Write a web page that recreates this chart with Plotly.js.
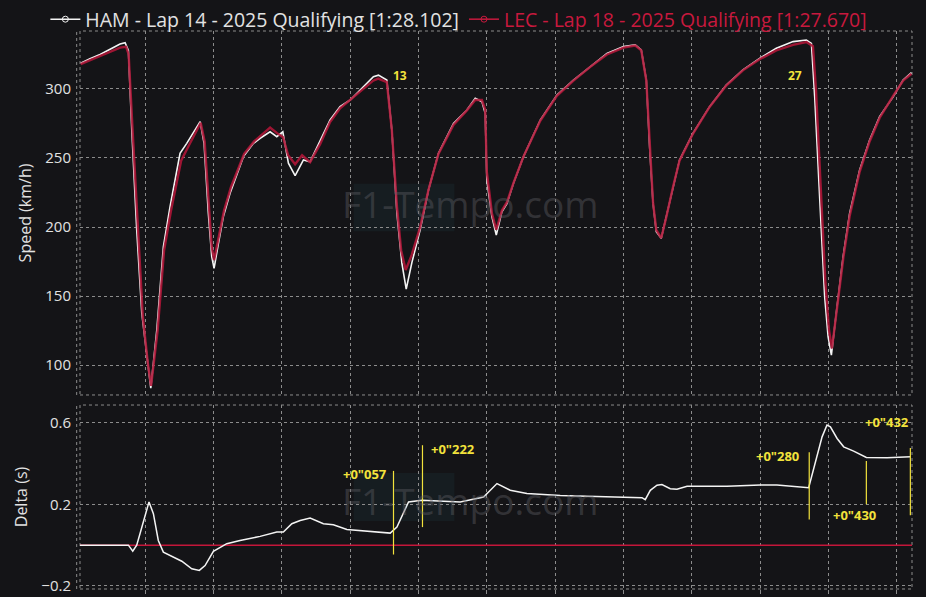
<!DOCTYPE html>
<html>
<head>
<meta charset="utf-8">
<script src="https://cdn.plot.ly/plotly-3.0.1.min.js"></script>
<style>html,body{margin:0;padding:0;background:#141417;}#chart{width:926px;height:597px;}</style>
</head>
<body>
<div id="chart"></div>
<script>
// ---- data (distance in metres) ----
const hamName = 'HAM - Lap 14 - 2025 Qualifying [1:28.102]';
const lecName = 'LEC - Lap 18 - 2025 Qualifying [1:27.670]';

const hamDist = [29,97,171,244,317,354,378,403,439,476,517,542,586,634,683,756,805,903,932,963,988,1005,1037,1073,1122,1220,1293,1342,1415,1464,1508,1549,1598,1659,1708,1781,1854,1927,2001,2074,2171,2208,2269,2306,2343,2379,2411,2452,2513,2574,2647,2757,2855,2916,2965,2989,3001,3038,3070,3111,3148,3196,3269,3392,3514,3635,3758,3880,4001,4087,4131,4168,4192,4217,4241,4277,4314,4363,4411,4509,4631,4753,4875,4997,5119,5242,5339,5376,5400,5436,5473,5498,5522,5558,5608,5656,5729,5802,5875,5974,6047,6108];
const hamSpeed = [318.6,322,325,329,332.6,333.5,328,270,198,137.7,101.5,83.3,125.4,185.7,214.7,253.4,260.6,276.3,260.6,210,178.5,170,188.2,207.5,224.4,251,260.6,264.3,269,265.4,269,246.2,237.2,248.6,247.3,263,277.5,287.2,292,299.3,308.9,310,306.5,270,210,174,155,174,198,226.8,253.4,275,284.8,293.3,290.8,282.4,234,207.5,194.2,211,217,231.7,251,277.5,295.7,306.5,316.2,325.8,330.7,331.9,328.3,306.5,258.2,217.2,196.6,191.8,207.5,229.2,248.6,267.9,287.2,302.9,313.8,322.2,329.5,334.3,335.5,333,294.4,222,149.5,120.5,107.2,137.7,178.5,210,241.3,263,280,294.4,306.5,311.8];

const lecDist = [29,171,317,361,380,410,447,483,522,544,592,639,690,764,815,907,936,965,987,1005,1035,1078,1129,1225,1298,1356,1415,1466,1510,1547,1598,1649,1708,1781,1854,1927,2001,2074,2169,2206,2269,2306,2343,2374,2407,2452,2513,2574,2647,2757,2855,2916,2965,2989,3001,3038,3070,3111,3148,3196,3269,3392,3514,3635,3758,3880,4001,4087,4131,4168,4192,4217,4241,4277,4314,4363,4411,4509,4631,4753,4875,4997,5119,5242,5339,5387,5409,5445,5478,5505,5526,5562,5610,5656,5729,5802,5875,5974,6047,6108];
const lecSpeed = [318,324,330,330.6,325,268,196,136,100,85,125,183,212,248,258,275.5,262,215,186,176,190,212,229,253,262,267,272,268,265,252,245.5,252,247,260,276,286,292,298,306,307.5,305,270,215,183,168.8,180,200,227,253,274,284.5,292,292,285,240,210,198,212,218,232,251,277,295,306,316,325,330,331.5,328,306,258,218,198,192,207,229,248,267.5,287,302.5,313.5,321.5,328,331.9,334,331,300,230,160,125,112,140,178,208,240,262,279,295,306,311];

const deltaDist = [24,378,410,439,463,500,529,561,597,634,707,769,842,897,939,1000,1098,1195,1342,1464,1512,1574,1635,1708,1805,1878,1977,2123,2294,2343,2391,2428,2526,2806,2977,3075,3172,3294,3538,3782,4001,4136,4160,4197,4246,4282,4343,4392,4466,4758,5002,5124,5356,5405,5454,5490,5515,5564,5612,5685,5778,5930,6100];
const deltaHam = [0,0,-0.03,0,0.056,0.138,0.212,0.154,0.023,-0.034,-0.059,-0.079,-0.116,-0.124,-0.1,-0.03,0.007,0.023,0.043,0.064,0.064,0.105,0.121,0.133,0.105,0.1,0.077,0.069,0.059,0.089,0.154,0.212,0.22,0.212,0.236,0.302,0.269,0.253,0.244,0.241,0.236,0.233,0.223,0.269,0.294,0.297,0.277,0.274,0.289,0.289,0.295,0.295,0.282,0.4,0.531,0.589,0.58,0.523,0.482,0.461,0.43,0.428,0.433];
const lecDeltaDist = [0, 6174];
const lecDelta = [0, 0];

// corner labels
const cornerLabels = ['13', '27'];
const cornerDist = [2367, 5258];
const cornerSpeed = [310, 310];

// gap markers on delta plot
const gapLabels = ['+0"057', '+0"222', '+0"280', '+0"430', '+0"432'];
const gapDist = [2318, 2530, 5360, 5778, 6100];
const gapLineTop = [0.364, 0.490, 0.456, 0.412, 0.476];
const gapLineBottom = [-0.046, 0.0885, 0.126, 0.200, 0.146];
const gapLabelDist = [2110, 2756, 5127, 5688, 5930];
const gapLabelY = [0.348, 0.471, 0.436, 0.146, 0.602];

// ---- styling ----
const BG = '#141417';
const TXT = '#e2e2e2';
const GRID = '#8c8c8c';
const RED = 'rgba(178,22,56,0.88)';
const YEL = '#f2e23c';
const FONT = 'Open Sans, Noto Sans, sans-serif';

const traces = [
  {x: hamDist, y: hamSpeed, xaxis: 'x', yaxis: 'y', mode: 'lines', line: {color: '#f4f4f4', width: 1.6}, showlegend: false, hoverinfo: 'skip'},
  {x: lecDist, y: lecSpeed, xaxis: 'x', yaxis: 'y', mode: 'lines', line: {color: RED, width: 2.4}, showlegend: false, hoverinfo: 'skip'},
  {x: lecDeltaDist, y: lecDelta, xaxis: 'x2', yaxis: 'y2', mode: 'lines', line: {color: '#c4163a', width: 1.5}, showlegend: false, hoverinfo: 'skip'},
  {x: deltaDist, y: deltaHam, xaxis: 'x2', yaxis: 'y2', mode: 'lines', line: {color: '#f4f4f4', width: 1.5}, showlegend: false, hoverinfo: 'skip'},
  // legend entries
  {x: [null], y: [null], xaxis: 'x', yaxis: 'y', mode: 'lines+markers', name: hamName,
   line: {color: '#f4f4f4', width: 1.5}, marker: {symbol: 'circle-open', size: 6, color: '#f4f4f4'}, showlegend: true},
  {x: [null], y: [null], xaxis: 'x', yaxis: 'y', mode: 'lines+markers', name: '<span style="color:#c8193e">' + lecName + '</span>',
   line: {color: '#c8193e', width: 1.5}, marker: {symbol: 'circle-open', size: 6, color: '#c8193e'}, showlegend: true}
];

const shapes = [];
['', '2'].forEach(s => {
  shapes.push({type: 'rect', xref: 'x' + s + ' domain', yref: 'y' + s + ' domain', x0: 0, x1: 1, y0: 0, y1: 1,
    line: {color: GRID, width: 1, dash: 'dot'}, layer: 'below'});
  shapes.push({type: 'line', xref: 'x' + s + ' domain', yref: 'y' + s + ' domain', x0: -0.004, x1: -0.004, y0: 0, y1: 1,
    line: {color: GRID, width: 1, dash: 'dot'}, layer: 'below'});
});
// watermark plates
shapes.push({type: 'rect', xref: 'x domain', yref: 'y domain', x0: 0.329, x1: 0.45, y0: 0.45, y1: 0.58,
  fillcolor: 'rgba(30,52,56,0.3)', line: {width: 0}, layer: 'below'});
shapes.push({type: 'rect', xref: 'x2 domain', yref: 'y2 domain', x0: 0.329, x1: 0.45, y0: 0.37, y1: 0.63,
  fillcolor: 'rgba(30,52,56,0.3)', line: {width: 0}, layer: 'below'});
gapDist.forEach((d, i) => {
  shapes.push({type: 'line', xref: 'x2', yref: 'y2', x0: d, x1: d, y0: gapLineBottom[i], y1: gapLineTop[i],
    line: {color: YEL, width: 1.2}});
});

const annotations = [];
annotations.push({xref: 'x domain', yref: 'y domain', x: 0.469, y: 0.527, text: 'F1-Tempo.com', showarrow: false,
  font: {family: FONT, size: 37, color: 'rgba(95,95,100,0.42)'}});
annotations.push({xref: 'x2 domain', yref: 'y2 domain', x: 0.469, y: 0.48, text: 'F1-Tempo.com', showarrow: false,
  font: {family: FONT, size: 37, color: 'rgba(95,95,100,0.42)'}});
cornerLabels.forEach((t, i) => {
  annotations.push({xref: 'x', yref: 'y', x: cornerDist[i], y: cornerSpeed[i], text: '<b>' + t + '</b>', showarrow: false,
    font: {family: FONT, size: 12, color: YEL}});
});
gapLabels.forEach((t, i) => {
  annotations.push({xref: 'x2', yref: 'y2', x: gapLabelDist[i], y: gapLabelY[i], text: '<b>' + t + '</b>', showarrow: false,
    font: {family: FONT, size: 13, color: YEL}});
});

const axX = {range: [24, 6112], tick0: 0, dtick: 500, showgrid: true, gridcolor: GRID, griddash: 'dot', gridwidth: 1,
  zeroline: false, showticklabels: false, showline: false, fixedrange: true};

const layout = {
  width: 926, height: 597,
  paper_bgcolor: BG, plot_bgcolor: BG,
  font: {family: FONT, color: TXT, size: 14},
  margin: {l: 80, r: 14, t: 31, b: 8, autoexpand: false},
  showlegend: true,
  legend: {orientation: 'h', xref: 'container', yref: 'container', x: 0.049, xanchor: 'left', y: 1.0, yanchor: 'top',
    font: {size: 19.5, color: TXT, family: FONT}, bgcolor: 'rgba(0,0,0,0)', itemwidth: 30, tracegroupgap: 0},
  xaxis: Object.assign({}, axX, {domain: [0, 1], anchor: 'y', matches: 'x2'}),
  xaxis2: Object.assign({}, axX, {domain: [0, 1], anchor: 'y2', ticks: 'outside', ticklen: 4, tickcolor: GRID}),
  yaxis: {domain: [0.3477, 1], anchor: 'x', range: [78.3, 342], tickvals: [100, 150, 200, 250, 300],
    showgrid: true, gridcolor: GRID, griddash: 'dot', zeroline: false, ticks: '', ticklabelstandoff: 8,
    tickfont: {size: 15, color: TXT}, title: {text: 'Speed (km/h)', font: {size: 16, color: TXT}, standoff: 9}},
  yaxis2: {domain: [0, 0.3297], anchor: 'x2', range: [-0.215, 0.687], tickvals: [-0.2, 0.2, 0.6],
    showgrid: true, gridcolor: GRID, griddash: 'dot', zeroline: false, ticks: '', ticklabelstandoff: 8,
    tickfont: {size: 15, color: TXT}, title: {text: 'Delta (s)', font: {size: 16, color: TXT}, standoff: 9}},
  shapes: shapes,
  annotations: annotations
};

Plotly.newPlot('chart', traces, layout, {displayModeBar: false, staticPlot: true});
</script>
</body>
</html>
